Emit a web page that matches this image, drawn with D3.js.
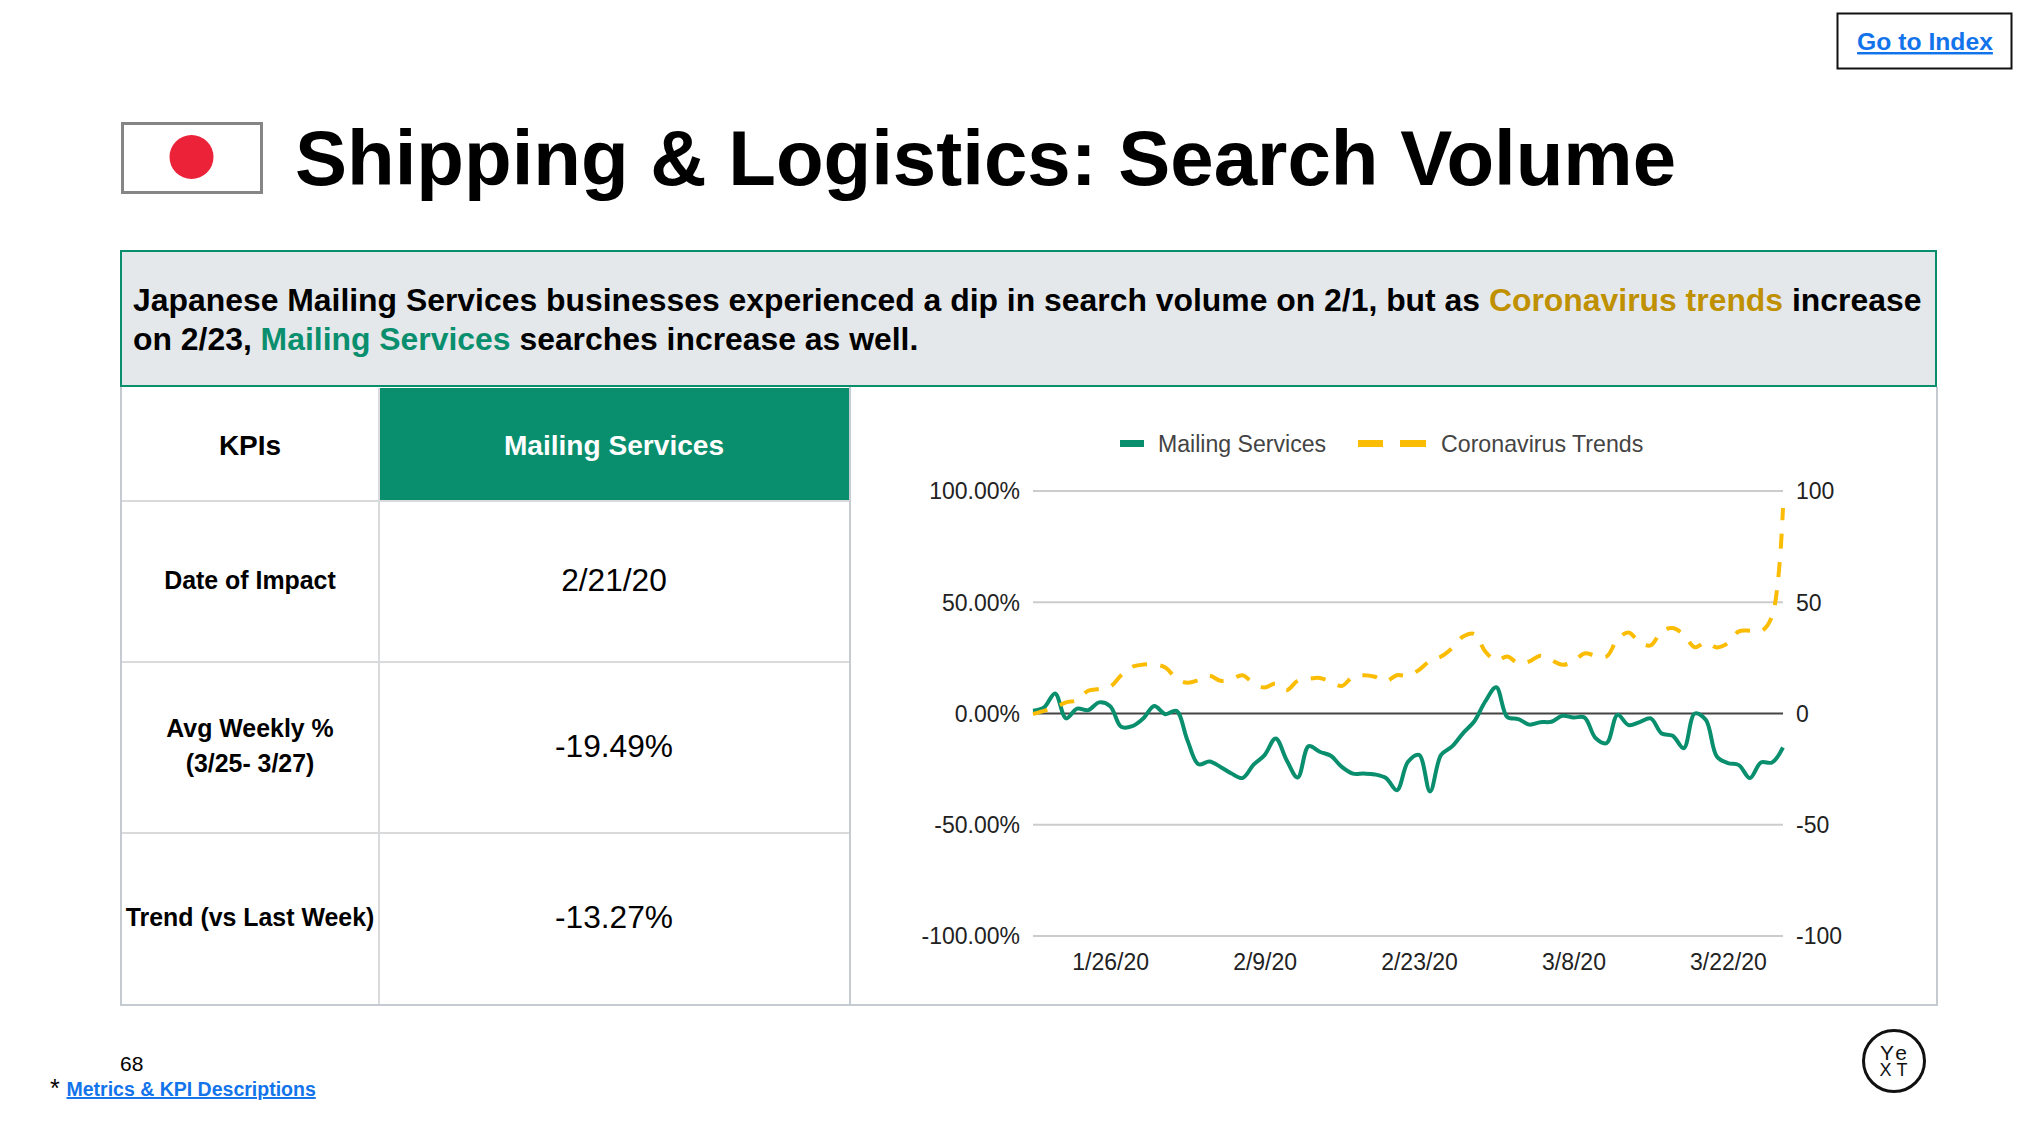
<!DOCTYPE html>
<html><head><meta charset="utf-8">
<script src="https://cdn.jsdelivr.net/npm/d3@7"></script>
<style>html,body{margin:0;padding:0;background:#fff}svg{display:block}text{font-family:"Liberation Sans",Arial,sans-serif}</style>
</head><body><div id="c"></div>
<script>
const startDate = "2020-01-19";
const xTickLabels = ["1/26/20","2/9/20","2/23/20","3/8/20","3/22/20"];
const leftTickValues = [100,50,0,-50,-100];
const mailingServices = [1.2,2.7,9,-2.2,2.2,1.5,5,3.3,-6,-5.7,-2.2,3.4,-0.3,1.2,-12,-22.8,-21.6,-24,-27,-29,-23,-18.7,-11.2,-21,-28.8,-14.7,-17.2,-19,-24,-27,-27,-27.4,-29,-34.5,-21.7,-18.6,-35,-18.6,-14.8,-8.8,-3.6,5.4,11.8,-1.6,-2.5,-5,-3.9,-3.7,-1,-1.8,-1.8,-11,-13.3,-0.6,-5.2,-3.9,-2.2,-9,-10,-15.6,0,-2.8,-19.3,-22.3,-23.2,-29,-22,-22,-15.3];
const coronavirusTrends = [-0.3,1.2,2.7,5,6,10.2,11,12,17.2,21,22,22,20.7,15.7,13.8,15,17,14.7,15.4,17.2,13.5,11.7,13.5,10.5,14.7,15.6,16,14.2,12.4,16.5,17.2,16.5,14.5,17.2,17,19.6,23.7,25.6,29.4,34.6,35.8,27.9,23.8,25.6,22.6,23.4,26,24,21.9,23.4,27,26,25.6,33.4,36.4,32,30.6,36.9,38.4,35.4,29.8,32,29.7,31.6,36.9,37.2,36.9,43.6,92.4];
const seriesNames = ["Mailing Services","Coronavirus Trends"];
const kpiRows = ["Date of Impact","Avg Weekly %|(3/25- 3/27)","Trend (vs Last Week)"];
const kpiValues = ["2/21/20","-19.49%","-13.27%"];

const GREEN="#0a8f6e", YELLOW="#fbbc04", BLUE="#1273eb", GRID="#d9dadc", EDGE="#c6cbd1";
const svg=d3.select("#c").append("svg").attr("width",2025).attr("height",1137);

// Go to index
svg.append("rect").attr("x",1837.5).attr("y",13.5).attr("width",174).attr("height",55).attr("fill","#fff").attr("stroke","#111").attr("stroke-width",2);
svg.append("text").attr("x",1925).attr("y",50).attr("text-anchor","middle").attr("font-size",24.7).attr("font-weight",700).attr("fill",BLUE).attr("text-decoration","underline").text("Go to Index");

// flag
svg.append("rect").attr("x",122.5).attr("y",123.5).attr("width",139).attr("height",69).attr("fill","#fff").attr("stroke","#858585").attr("stroke-width",3);
svg.append("circle").attr("cx",191.5).attr("cy",157).attr("r",22).attr("fill","#ec2239");

// title
svg.append("text").attr("x",295).attr("y",185).attr("font-size",78).attr("font-weight",700).attr("fill","#000").text("Shipping & Logistics: Search Volume");

// callout
svg.append("rect").attr("x",121).attr("y",251).attr("width",1815).attr("height",135).attr("fill","#e5e8eb").attr("stroke",GREEN).attr("stroke-width",2);
const l1=svg.append("text").attr("x",133).attr("y",311).attr("font-size",31.9).attr("font-weight",700).attr("fill","#000");
l1.append("tspan").text("Japanese Mailing Services businesses experienced a dip in search volume on 2/1, but as ");
l1.append("tspan").attr("fill","#bf9000").text("Coronavirus trends");
l1.append("tspan").text(" increase");
const l2=svg.append("text").attr("x",133).attr("y",350).attr("font-size",31.9).attr("font-weight",700).attr("fill","#000");
l2.append("tspan").text("on 2/23, ");
l2.append("tspan").attr("fill",GREEN).text("Mailing Services");
l2.append("tspan").text(" searches increase as well.");

// table
const rowY=[388,501,662,833,1005];
svg.append("rect").attr("x",379).attr("y",388).attr("width",471).attr("height",113).attr("fill",GREEN);
const gl=svg.append("g").attr("stroke",GRID).attr("stroke-width",2);
[379].forEach(v=>gl.append("line").attr("x1",v).attr("x2",v).attr("y1",388).attr("y2",1005));
rowY.slice(1,4).forEach(y=>gl.append("line").attr("x1",121).attr("x2",850).attr("y1",y).attr("y2",y));
const ge=svg.append("g").attr("stroke",EDGE).attr("stroke-width",2);
[121,850,1937].forEach(v=>ge.append("line").attr("x1",v).attr("x2",v).attr("y1",387).attr("y2",1006));
ge.append("line").attr("x1",121).attr("x2",1937).attr("y1",1005).attr("y2",1005);
svg.append("text").attr("x",250).attr("y",454.5).attr("text-anchor","middle").attr("font-size",28).attr("font-weight",700).text("KPIs");
svg.append("text").attr("x",614).attr("y",454.5).attr("text-anchor","middle").attr("font-size",28.1).attr("font-weight",700).attr("fill","#fff").text(seriesNames[0]);
kpiRows.forEach((r,i)=>{
  const cy=(rowY[i+1]+rowY[i+2])/2, parts=r.split("|");
  parts.forEach((p,j)=>svg.append("text").attr("x",250).attr("y",cy+7+(j-(parts.length-1)/2)*35).attr("text-anchor","middle").attr("font-size",24.9).attr("font-weight",700).text(p));
  svg.append("text").attr("x",614).attr("y",cy+9).attr("text-anchor","middle").attr("font-size",31.7).text(kpiValues[i]);
});

// chart
const parse=d3.utcParse("%Y-%m-%d"), t0=parse(startDate), DAY=864e5;
const dates=mailingServices.map((_,i)=>new Date(+t0+i*DAY));
const x=d3.scaleUtc().domain([dates[0],dates[dates.length-1]]).range([1033,1783]);
const y=d3.scaleLinear().domain([-100,100]).range([936,491]);
const tickDates=xTickLabels.map(s=>{const [m,d,yy]=s.split("/");return new Date(Date.UTC(2000+ +yy,m-1,+d));});

const gridG=svg.append("g");
leftTickValues.forEach(v=>gridG.append("line").attr("x1",1033).attr("x2",1783).attr("y1",y(v)).attr("y2",y(v)).attr("stroke",v==0?"#444":"#ccc").attr("stroke-width",2));

const axL=svg.append("g").attr("transform","translate(1033,0.5)").call(d3.axisLeft(y).tickValues(leftTickValues).tickSize(0).tickPadding(13).tickFormat(d=>d3.format(".2f")(d).replace("\u2212","-")+"%"));
const axR=svg.append("g").attr("transform","translate(1783,0.5)").call(d3.axisRight(y).tickValues(leftTickValues).tickSize(0).tickPadding(13).tickFormat(d=>String(d)));
const axB=svg.append("g").attr("transform","translate(0,937)").call(d3.axisBottom(x).tickValues(tickDates).tickSize(0).tickPadding(17).tickFormat((d,i)=>xTickLabels[i]));
[axL,axR,axB].forEach(a=>{a.select(".domain").remove();a.selectAll("text").attr("font-size",23).attr("font-family",'"Liberation Sans"').attr("fill","#222");});

const line=d3.line().x((d,i)=>x(dates[i])).y(d=>y(d)).curve(d3.curveCatmullRom.alpha(0.5));
svg.append("path").attr("d",line(mailingServices)).attr("fill","none").attr("stroke",GREEN).attr("stroke-width",4);
const yp=svg.append("path").attr("d",line(coronavirusTrends)).attr("fill","none").attr("stroke",YELLOW).attr("stroke-width",4);
// fit the dash rhythm so the last dash reaches the end of the line, as in the reference
const dashLen=15, L=yp.node().getTotalLength(), n=Math.round((L-dashLen)/28), period=(L-dashLen)/n;
yp.attr("stroke-dasharray",dashLen+" "+(period-dashLen));

// legend
svg.append("rect").attr("x",1120).attr("y",440).attr("width",24).attr("height",7).attr("fill",GREEN);
svg.append("text").attr("x",1158).attr("y",452).attr("font-size",23.1).attr("fill","#444").text(seriesNames[0]);
svg.append("rect").attr("x",1358).attr("y",440).attr("width",25).attr("height",7).attr("fill",YELLOW);
svg.append("rect").attr("x",1400).attr("y",440).attr("width",26).attr("height",7).attr("fill",YELLOW);
svg.append("text").attr("x",1441).attr("y",452).attr("font-size",23.2).attr("fill","#444").text(seriesNames[1]);

// footer
svg.append("text").attr("x",120).attr("y",1071).attr("font-size",21).text("68");
svg.append("text").attr("x",50).attr("y",1097).attr("font-size",25).text("*");
svg.append("text").attr("x",66.5).attr("y",1096).attr("font-size",19.5).attr("font-weight",700).attr("fill",BLUE).attr("text-decoration","underline").text("Metrics & KPI Descriptions");

// logo
svg.append("circle").attr("cx",1894).attr("cy",1061).attr("r",30.5).attr("fill","none").attr("stroke","#111").attr("stroke-width",3);
const logo=svg.append("text").attr("text-anchor","middle").attr("fill","#111");
logo.append("tspan").attr("x",1895).attr("y",1060).attr("font-size",21).attr("letter-spacing",3).text("Ye");
logo.append("tspan").attr("x",1896).attr("y",1076).attr("font-size",18).attr("letter-spacing",5).text("XT");
</script></body></html>
